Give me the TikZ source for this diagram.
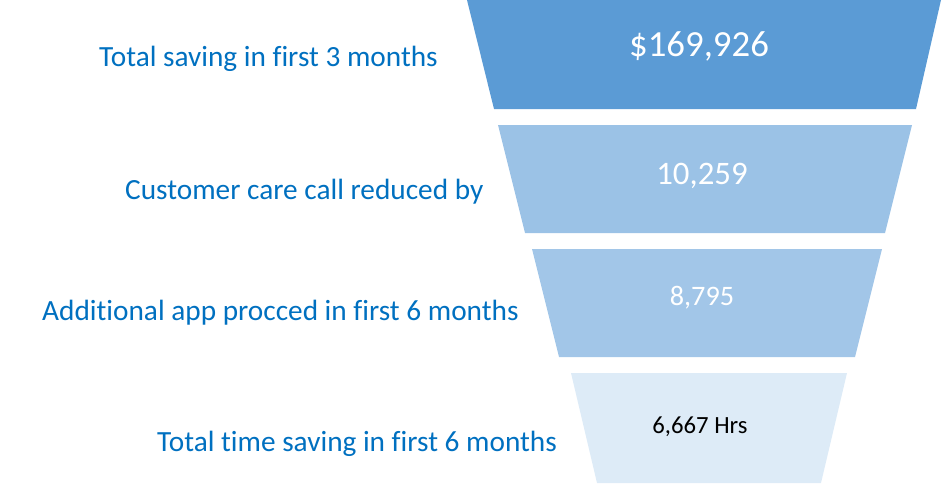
\documentclass[tikz,border=0pt]{standalone}
\usepackage{fontspec}
\setmainfont[Ligatures=NoCommon]{Carlito}
\definecolor{stageA}{HTML}{5B9BD5}
\definecolor{stageB}{HTML}{9BC2E6}
\definecolor{stageC}{HTML}{A2C6E8}
\definecolor{stageD}{HTML}{DDEBF7}
\definecolor{labelblue}{HTML}{0070C0}
\tikzset{
  caption/.style={text=labelblue, inner sep=0pt, anchor=base west, font=\fontsize{29.3}{34}\selectfont},
  figure/.style={text=white, inner sep=0pt, anchor=base}
}
\begin{document}
\begin{tikzpicture}[x=1pt,y=-1pt]
    \useasboundingbox (0,0) rectangle (943,483);
    % funnel stages
    \fill[stageA] (467,0) -- (941,0) -- (916,109) -- (494,109) -- cycle;
    \fill[stageB] (498,125) -- (912,125) -- (885,233) -- (525,233) -- cycle;
    \fill[stageC] (532,249) -- (882,249) -- (855,357) -- (559,357) -- cycle;
    \fill[stageD] (571,373) -- (847,373) -- (821,483) -- (597,483) -- cycle;

    \node[figure, font=\fontsize{36.8}{42}\selectfont] (v1) at (699,56.7) {\$169,926};
    \node[figure, font=\fontsize{32.8}{38}\selectfont] (v2) at (702,184.3) {10,259};
    \node[figure, font=\fontsize{28.2}{32}\selectfont] (v3) at (702,305.7) {8,795};
    \node[figure, text=black, font=\fontsize{24.7}{28}\selectfont] (v4) at (700,433.3) {6,667 Hrs};

    \node[caption] (c1) at (99,66.7) {Total saving in first 3 months};
    \node[caption] (c2) at (125,199) {Customer care call reduced by};
    \node[caption] (c3) at (42,320) {Additional app procced in first 6 months};
    \node[caption] (c4) at (157,451.7) {Total time saving in first 6 months};
\end{tikzpicture}
\end{document}
